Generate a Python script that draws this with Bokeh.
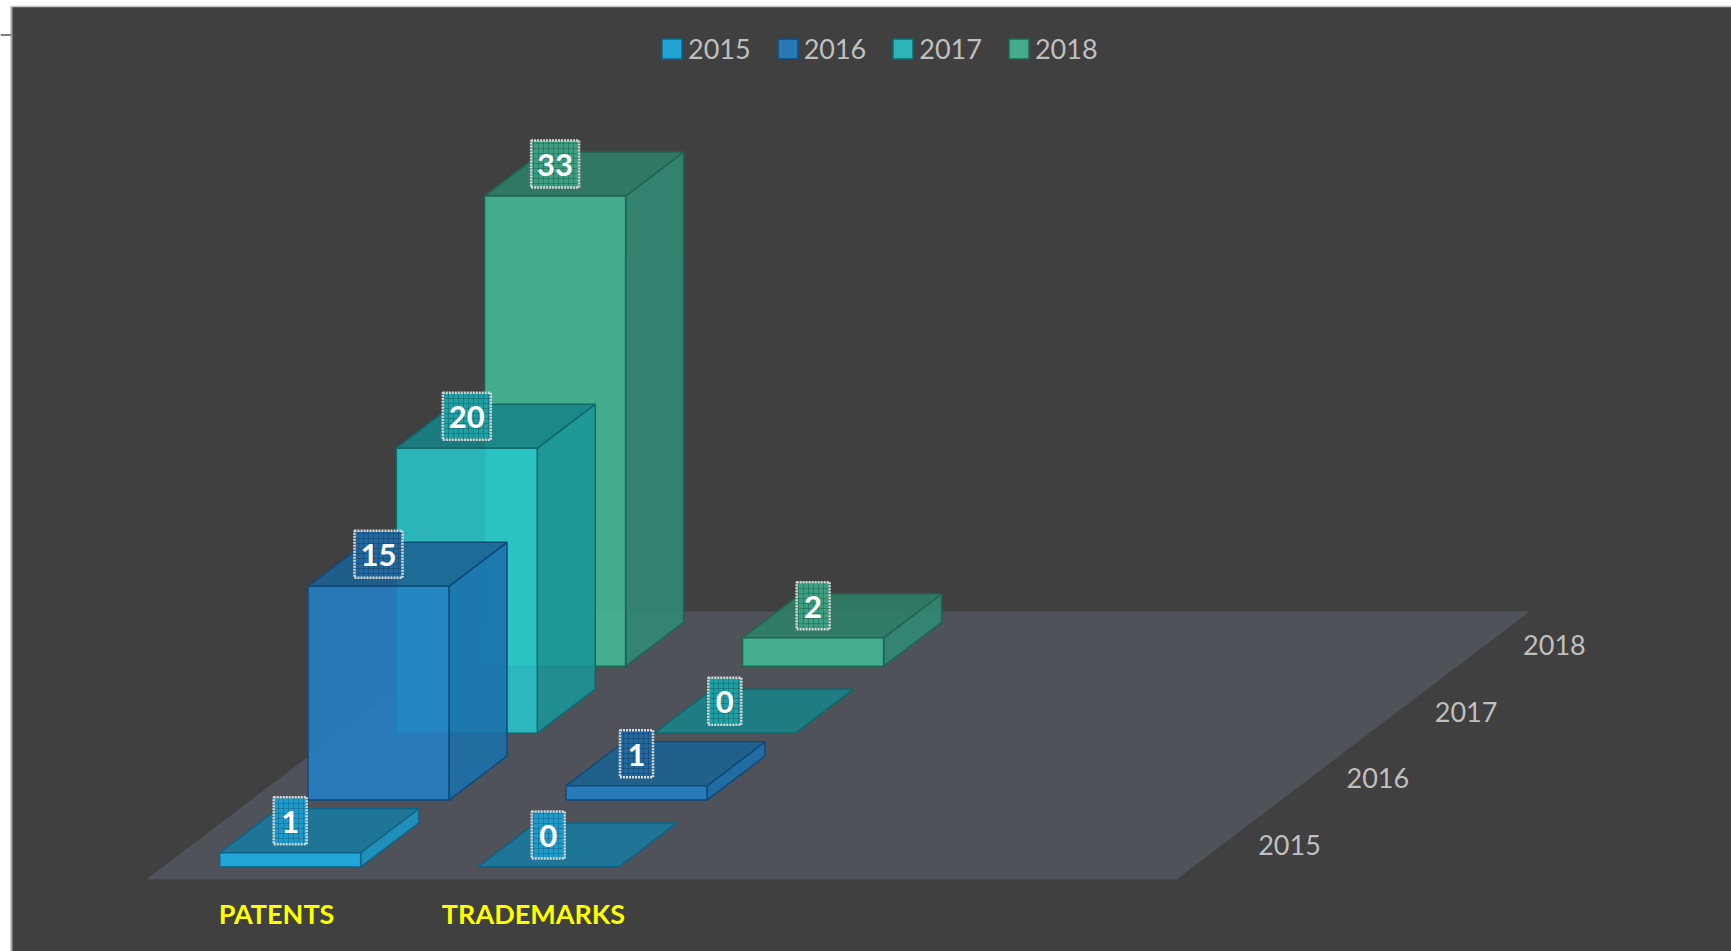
from bokeh.plotting import figure
from bokeh.models import Range1d, Legend, LegendItem, ColumnDataSource
from bokeh.core.properties import value
from bokeh.embed import file_html
from bokeh.resources import INLINE

# ---- data ----
categories = ["PATENTS", "TRADEMARKS"]
years = ["2015", "2016", "2017", "2018"]
values_2015 = [1, 0]
values_2016 = [15, 1]
values_2017 = [20, 0]
values_2018 = [33, 2]
series = [values_2015, values_2016, values_2017, values_2018]

# ---- style ----
FRONT = ["#1CB0EA", "#247FC5", "#28C5CA", "#44BB96"]
SIDE = ["#1A97C6", "#1B70AB", "#1A9599", "#308B75"]
TOP = ["#187A9E", "#1A6292", "#178388", "#2E8069"]
EDGE = ["#0E6288", "#0E4A7C", "#0F6A70", "#1F6650"]
BOX = ["#1E9BCB", "#22689F", "#1F9EA3", "#3C9E80"]

W, H = 1731, 951

# ---- pseudo-3D projection, in page pixels ----
X0, BASE = 219.2, 866.5
CAT_STEP = 258.0
SER_DX, SER_DY = 88.3, -66.9
BAR_W = 141
DEP_DX, DEP_DY = 58, -44
VALUE_PX = 14.25

p = figure(width=W, height=H, output_backend="svg", toolbar_location=None,
           x_range=Range1d(0, W), y_range=Range1d(H, 0),
           min_border=0, outline_line_color=None,
           background_fill_color="#FFFFFF", border_fill_color="#FFFFFF")
p.axis.visible = False
p.grid.visible = False

# panel
p.quad(left=[11], right=[W], top=[6], bottom=[H], fill_color="#404040", line_color=None)
p.segment(x0=[11], y0=[6], x1=[11], y1=[H], line_color="#A6A6A6", line_width=2)
p.segment(x0=[11], y0=[6], x1=[W], y1=[6], line_color="#C4C4C4", line_width=1.5)
p.segment(x0=[0], y0=[34.5], x1=[11], y1=[34.5], line_color="#808080", line_width=2)

# floor
p.patch(x=[145.7, 1176, 1529, 499], y=[879, 879, 611, 611],
        fill_color="#4F5258", line_color=None)

legend_items = {}
for s in range(3, -1, -1):
    vals = series[s]
    fx, fy, sx, sy, tx, ty = [], [], [], [], [], []
    for c, v in enumerate(vals):
        x1 = X0 + c * CAT_STEP + s * SER_DX
        x2 = x1 + BAR_W
        yb = BASE + s * SER_DY
        yt = yb - v * VALUE_PX
        fx.append([x1, x2, x2, x1])
        fy.append([yb, yb, yt, yt])
        sx.append([x2, x2 + DEP_DX, x2 + DEP_DX, x2])
        sy.append([yb, yb + DEP_DY, yt + DEP_DY, yt])
        tx.append([x1, x2, x2 + DEP_DX, x1 + DEP_DX])
        ty.append([yt, yt, yt + DEP_DY, yt + DEP_DY])
    p.patches(sx, sy, fill_color=SIDE[s], fill_alpha=0.88, line_color=EDGE[s], line_width=1.5)
    p.patches(tx, ty, fill_color=TOP[s], fill_alpha=0.88, line_color=EDGE[s], line_width=1.5)
    legend_items[s] = p.patches(fx, fy, fill_color=FRONT[s], fill_alpha=0.88,
                                line_color=EDGE[s], line_width=1.5)

# data labels (drawn on top of all bars)
for s in range(4):
    bx, by, ty_, bw, texts = [], [], [], [], []
    for c, v in enumerate(series[s]):
        bx.append(X0 + c * CAT_STEP + s * SER_DX + BAR_W / 2)
        by.append(BASE + s * SER_DY - v * VALUE_PX - 32)
        ty_.append(BASE + s * SER_DY - v * VALUE_PX - 31)
        bw.append(48 if v >= 10 else 33)
        texts.append(str(v))
    src = ColumnDataSource(dict(x=bx, y=by, ty=ty_, w=bw, t=texts))
    p.rect(x="x", y="y", width="w", height=47, source=src,
           fill_color=BOX[s], line_color="#D8D8D8", line_width=2.5, line_dash="2 1",
           hatch_pattern="cross", hatch_scale=5, hatch_color="#000000", hatch_alpha=0.18)
    p.text(x="x", y="ty", text="t", source=src, text_color="#FFFFFF",
           text_font=value("Lato"), text_font_style="bold", text_font_size="31px",
           text_align="center", text_baseline="middle")

# depth axis labels
p.text(x=[1289 + i * 88.3 for i in range(4)],
       y=[844.5 - i * 66.6 for i in range(4)],
       text=years, text_color="#BFBFBF", text_font=value("Lato"),
       text_font_size="27px", text_align="center", text_baseline="middle")

# category labels
p.text(x=[276 + i * 257 for i in range(2)], y=[913] * 2, text=categories,
       text_color="#FFFF00", text_font=value("Lato"),
       text_font_style="bold", text_font_size="27px",
       text_align="center", text_baseline="middle")

legend = Legend(items=[LegendItem(label=y, renderers=[legend_items[i]]) for i, y in enumerate(years)],
                orientation="horizontal", location=(659, 886),
                background_fill_alpha=0, border_line_color=None,
                label_text_color="#BFBFBF", label_text_font="Lato", label_text_font_size="27px",
                glyph_width=25, glyph_height=25, label_standoff=4, spacing=24, padding=0, margin=0)
p.add_layout(legend)

open("out.html", "w").write(file_html(p, INLINE))
